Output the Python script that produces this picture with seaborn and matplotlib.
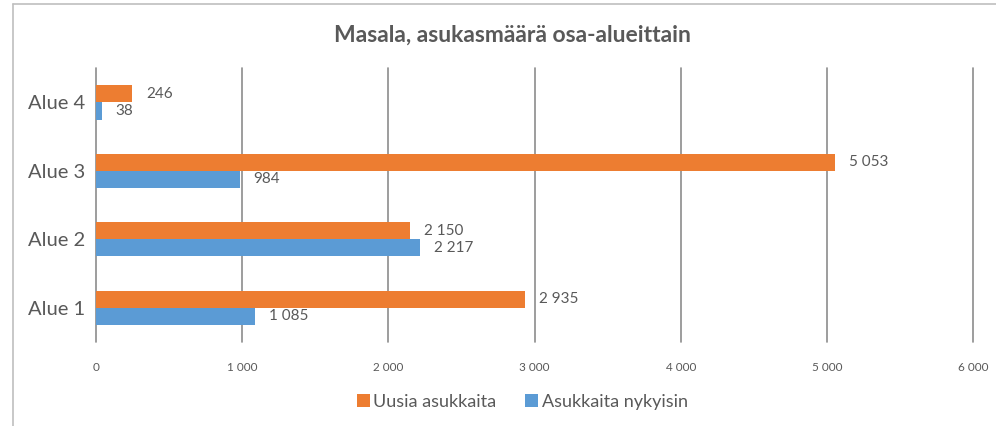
import matplotlib
matplotlib.use("Agg")
import matplotlib.pyplot as plt
from matplotlib.lines import Line2D
import pandas as pd
import seaborn as sns

# Données
alueet = ["Alue 1", "Alue 2", "Alue 3", "Alue 4"]
uusia = [2935, 2150, 5053, 246]
nykyisin = [1085, 2217, 984, 38]
sarjat = ["Uusia asukkaita", "Asukkaita nykyisin"]
x_ticks = [0, 1000, 2000, 3000, 4000, 5000, 6000]

df = pd.DataFrame({
    "alue": alueet * 2,
    "sarja": [sarjat[0]] * 4 + [sarjat[1]] * 4,
    "arvo": uusia + nykyisin,
})

def fmt(v):
    return f"{v:,.0f}".replace(",", " ")

sns.set_style("white")
plt.rcParams["font.family"] = ["Lato", "DejaVu Sans"]
teksti = "#595959"

fig = plt.figure(figsize=(9.96, 4.26), dpi=100)
ax = fig.add_axes([0.0964, 0.197, 0.8806, 0.643])

sns.barplot(data=df, y="alue", x="arvo", hue="sarja", orient="h",
            order=alueet[::-1], hue_order=sarjat,
            palette=["#ED7D31", "#5B9BD5"], width=0.5, saturation=1,
            linewidth=0, ax=ax)

for cont in ax.containers:
    ax.bar_label(cont, labels=[fmt(b.get_width()) for b in cont],
                 padding=10, fontsize=11, color=teksti)

ax.set_xlim(0, 6000)
ax.set_xticks(x_ticks)
ax.set_xticklabels([fmt(t) for t in x_ticks], fontsize=8.5, color=teksti)
ax.tick_params(axis="x", length=0, pad=14)
ax.tick_params(axis="y", length=0, pad=8, labelsize=14.5, labelcolor=teksti)
ax.set_xlabel("")
ax.set_ylabel("")
ax.xaxis.grid(True, color="#8c8c8c", linewidth=1.2)
for gl in ax.get_xgridlines():
    gl.set_clip_on(False)
ax.set_axisbelow(True)
for s in ax.spines.values():
    s.set_visible(False)

ax.set_title("Masala, asukasmäärä osa-alueittain", fontsize=16.5,
             fontweight="bold", color=teksti, pad=19, x=0.475)

ax.legend(loc="center", bbox_to_anchor=(0.486, -0.217), ncol=2,
          frameon=False, fontsize=13, handlelength=0.7, handleheight=0.7,
          handletextpad=0.2, columnspacing=1.6, labelcolor=teksti)

# kehys
fig.add_artist(Line2D([13 / 996, 1], [1 - 4 / 426, 1 - 4 / 426],
                      color="#bfbfbf", linewidth=1.2))
fig.add_artist(Line2D([13 / 996, 13 / 996], [0, 1 - 4 / 426],
                      color="#bfbfbf", linewidth=1.2))

fig.savefig("out.png", dpi=100)
